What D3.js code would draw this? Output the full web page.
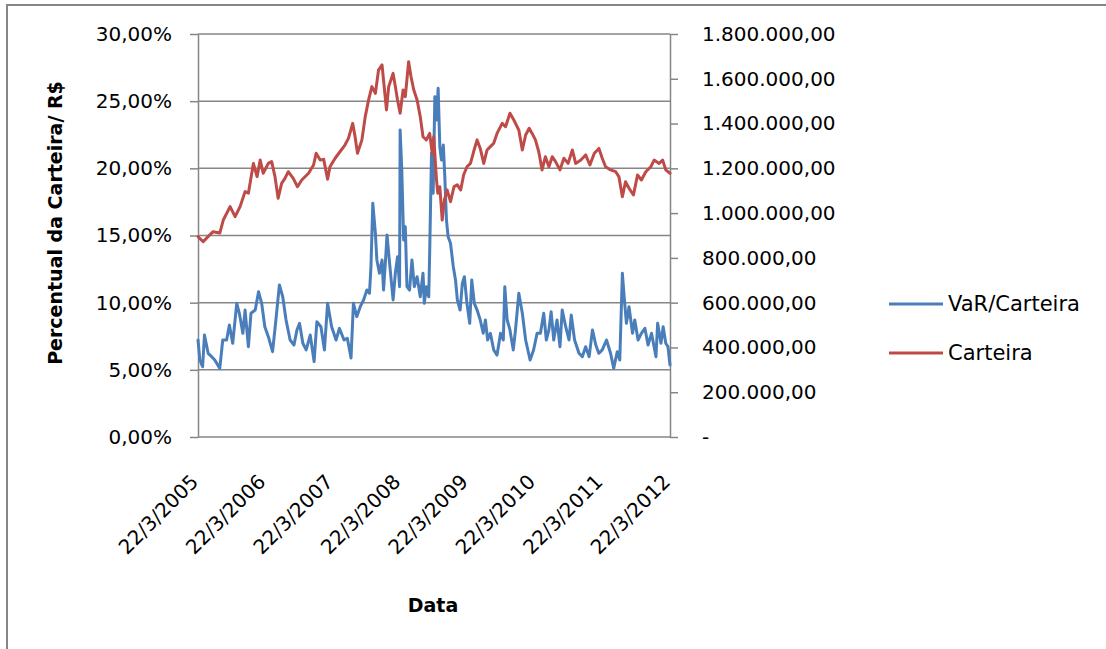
<!DOCTYPE html>
<html>
<head>
<meta charset="utf-8">
<script src="https://cdn.jsdelivr.net/npm/d3@7"></script>
<style>
  html, body { margin: 0; padding: 0; background: #fff; }
  svg { display: block; }
  text { font-family: "DejaVu Sans", sans-serif; fill: #000; }
</style>
</head>
<body>
<svg id="chart" width="1106" height="649"></svg>
<script>
// Category (date) ticks, one per year
const yearTicks = ["2005-03-22", "2006-03-22", "2007-03-22", "2008-03-22",
                   "2009-03-22", "2010-03-22", "2011-03-22", "2012-03-22"];
// Primary axis ticks (% of portfolio) and secondary axis ticks (R$)
const pctTicks = [0, 5, 10, 15, 20, 25, 30];
const valueTicks = [0, 200000, 400000, 600000, 800000, 1000000, 1200000, 1400000, 1600000, 1800000];

const seriesNames = ["VaR/Carteira", "Carteira"];
const seriesColors = ["#4A7EBB", "#BE4B48"];

// VaR as a percentage of the portfolio
const varCarteira = [
  ["2005-03-22", 7.22], ["2005-04-01", 5.73], ["2005-04-16", 5.23], ["2005-04-26", 7.59],
  ["2005-05-16", 6.23], ["2005-06-04", 5.98], ["2005-06-21", 5.73], ["2005-07-18", 5.11],
  ["2005-08-03", 7.22], ["2005-08-24", 7.22], ["2005-09-08", 8.34], ["2005-09-26", 6.98],
  ["2005-10-18", 9.95], ["2005-11-01", 9.21], ["2005-11-20", 7.72], ["2005-12-02", 9.45],
  ["2005-12-20", 6.72], ["2006-01-03", 9.21], ["2006-01-26", 9.45], ["2006-02-13", 10.82],
  ["2006-03-02", 9.95], ["2006-03-19", 8.21], ["2006-04-07", 7.47], ["2006-04-30", 6.35],
  ["2006-05-18", 8.71], ["2006-06-06", 11.32], ["2006-06-24", 10.44], ["2006-07-12", 8.71],
  ["2006-08-03", 7.22], ["2006-08-24", 6.85], ["2006-09-09", 7.97], ["2006-09-23", 8.46],
  ["2006-10-11", 6.98], ["2006-10-29", 6.48], ["2006-11-20", 7.59], ["2006-12-11", 5.61],
  ["2006-12-26", 8.58], ["2007-01-17", 8.21], ["2007-02-05", 6.48], ["2007-02-22", 9.95],
  ["2007-03-16", 8.21], ["2007-04-09", 7.22], ["2007-04-27", 8.09], ["2007-05-22", 7.22],
  ["2007-06-09", 7.35], ["2007-06-29", 5.88], ["2007-07-12", 9.95], ["2007-07-30", 8.96],
  ["2007-08-18", 9.70], ["2007-09-05", 10.20], ["2007-09-23", 10.94], ["2007-10-07", 10.70],
  ["2007-10-15", 12.68], ["2007-10-25", 17.40], ["2007-11-08", 15.16], ["2007-11-16", 13.18],
  ["2007-11-30", 12.19], ["2007-12-14", 13.18], ["2007-12-22", 10.94], ["2008-01-02", 13.18],
  ["2008-01-10", 15.04], ["2008-01-24", 12.93], ["2008-02-12", 10.20], ["2008-02-24", 12.19],
  ["2008-03-07", 13.42], ["2008-03-18", 11.19], ["2008-03-21", 22.85], ["2008-03-30", 19.88],
  ["2008-04-09", 14.67], ["2008-04-18", 15.66], ["2008-04-27", 11.19], ["2008-05-11", 10.94],
  ["2008-05-24", 13.18], ["2008-06-06", 11.19], ["2008-06-21", 11.93], ["2008-07-08", 10.44],
  ["2008-07-23", 12.19], ["2008-07-30", 9.95], ["2008-08-10", 11.19], ["2008-08-23", 10.44],
  ["2008-08-28", 13.67], ["2008-09-07", 21.12], ["2008-09-16", 18.14], ["2008-09-25", 25.33],
  ["2008-10-04", 23.60], ["2008-10-13", 25.96], ["2008-10-22", 21.61], ["2008-10-31", 20.62],
  ["2008-11-10", 21.74], ["2008-11-18", 19.38], ["2008-11-27", 16.15], ["2008-12-06", 14.91],
  ["2008-12-19", 14.42], ["2009-01-03", 12.68], ["2009-01-15", 11.69], ["2009-01-25", 10.20],
  ["2009-02-09", 9.45], ["2009-02-21", 11.44], ["2009-03-04", 11.93], ["2009-03-18", 9.95],
  ["2009-04-02", 8.46], ["2009-04-13", 11.69], ["2009-04-27", 9.95], ["2009-05-12", 9.45],
  ["2009-05-29", 8.71], ["2009-06-14", 7.72], ["2009-06-26", 8.71], ["2009-07-08", 7.22],
  ["2009-07-23", 7.72], ["2009-08-10", 6.48], ["2009-08-28", 6.10], ["2009-09-16", 7.72],
  ["2009-10-01", 7.22], ["2009-10-09", 11.19], ["2009-10-22", 8.71], ["2009-11-06", 7.97],
  ["2009-11-24", 6.48], ["2009-12-06", 7.97], ["2009-12-24", 10.70], ["2010-01-12", 9.21],
  ["2010-01-30", 7.22], ["2010-02-23", 5.73], ["2010-03-14", 6.48], ["2010-04-02", 7.72],
  ["2010-04-20", 7.72], ["2010-05-08", 9.21], ["2010-05-22", 7.22], ["2010-06-05", 7.97],
  ["2010-06-17", 9.33], ["2010-07-01", 7.22], ["2010-07-19", 8.71], ["2010-08-04", 6.72],
  ["2010-08-16", 9.45], ["2010-09-04", 8.21], ["2010-09-22", 7.22], ["2010-10-04", 9.08],
  ["2010-10-22", 7.22], ["2010-11-15", 6.23], ["2010-12-03", 5.98], ["2010-12-21", 6.72],
  ["2011-01-09", 5.98], ["2011-01-27", 7.97], ["2011-02-14", 6.85], ["2011-03-02", 6.23],
  ["2011-03-21", 6.48], ["2011-04-13", 7.22], ["2011-05-05", 6.23], ["2011-05-22", 5.11],
  ["2011-06-10", 6.35], ["2011-06-24", 5.73], ["2011-07-08", 12.19], ["2011-07-19", 10.20],
  ["2011-07-30", 8.46], ["2011-08-13", 9.70], ["2011-09-01", 7.72], ["2011-09-13", 8.71],
  ["2011-10-01", 7.22], ["2011-10-19", 7.72], ["2011-11-07", 8.09], ["2011-11-24", 6.85],
  ["2011-12-13", 7.72], ["2012-01-06", 5.98], ["2012-01-15", 8.46], ["2012-02-02", 6.98],
  ["2012-02-14", 8.21], ["2012-02-28", 6.98], ["2012-03-11", 6.72], ["2012-03-22", 5.36]
];

// Portfolio value in R$
const carteira = [
  ["2005-03-22", 895000], ["2005-04-19", 872000], ["2005-05-07", 888000], ["2005-06-12", 917000],
  ["2005-07-18", 911000], ["2005-08-06", 969000], ["2005-09-12", 1029000], ["2005-10-09", 984000],
  ["2005-11-05", 1029000], ["2005-12-02", 1096000], ["2005-12-20", 1089000], ["2006-01-16", 1222000],
  ["2006-02-05", 1163000], ["2006-02-22", 1237000], ["2006-03-10", 1178000], ["2006-04-07", 1222000],
  ["2006-04-25", 1230000], ["2006-05-13", 1163000], ["2006-05-30", 1066000], ["2006-06-18", 1133000],
  ["2006-07-06", 1155000], ["2006-07-24", 1185000], ["2006-08-20", 1155000], ["2006-09-12", 1118000],
  ["2006-10-05", 1148000], ["2006-11-11", 1178000], ["2006-12-08", 1215000], ["2006-12-22", 1267000],
  ["2007-01-13", 1237000], ["2007-02-01", 1240000], ["2007-02-22", 1151000], ["2007-03-07", 1207000],
  ["2007-04-04", 1245000], ["2007-04-30", 1274000], ["2007-05-27", 1304000], ["2007-06-15", 1334000],
  ["2007-07-08", 1401000], ["2007-07-21", 1341000], ["2007-08-03", 1267000], ["2007-08-27", 1327000],
  ["2007-09-14", 1431000], ["2007-10-02", 1505000], ["2007-10-20", 1565000], ["2007-11-08", 1535000],
  ["2007-11-25", 1639000], ["2007-12-14", 1662000], ["2007-12-22", 1595000], ["2008-01-07", 1461000],
  ["2008-01-19", 1565000], ["2008-02-12", 1624000], ["2008-02-24", 1565000], ["2008-03-07", 1505000],
  ["2008-03-21", 1446000], ["2008-04-06", 1550000], ["2008-04-18", 1520000], ["2008-05-06", 1676000],
  ["2008-05-19", 1609000], ["2008-06-03", 1550000], ["2008-06-21", 1505000], ["2008-07-08", 1431000],
  ["2008-07-23", 1341000], ["2008-08-10", 1327000], ["2008-08-28", 1356000], ["2008-09-11", 1267000],
  ["2008-09-19", 1341000], ["2008-10-04", 1148000], ["2008-10-11", 1089000], ["2008-10-22", 1118000],
  ["2008-11-04", 969000], ["2008-11-16", 1059000], ["2008-12-01", 1103000], ["2008-12-19", 1051000],
  ["2009-01-07", 1118000], ["2009-01-25", 1126000], ["2009-02-12", 1103000], ["2009-02-28", 1170000],
  ["2009-03-18", 1207000], ["2009-04-06", 1222000], ["2009-04-23", 1274000], ["2009-05-12", 1327000],
  ["2009-05-29", 1289000], ["2009-06-17", 1222000], ["2009-07-05", 1282000], ["2009-07-23", 1297000],
  ["2009-08-10", 1312000], ["2009-08-28", 1356000], ["2009-09-25", 1401000], ["2009-10-13", 1386000],
  ["2009-11-06", 1446000], ["2009-11-27", 1416000], ["2009-12-24", 1371000], ["2010-01-12", 1282000],
  ["2010-01-30", 1349000], ["2010-02-18", 1379000], ["2010-03-06", 1356000], ["2010-03-24", 1327000],
  ["2010-04-11", 1274000], ["2010-04-29", 1193000], ["2010-05-17", 1252000], ["2010-06-05", 1207000],
  ["2010-06-23", 1252000], ["2010-07-11", 1230000], ["2010-08-04", 1193000], ["2010-08-25", 1245000],
  ["2010-09-17", 1222000], ["2010-10-10", 1282000], ["2010-10-28", 1222000], ["2010-11-25", 1237000],
  ["2010-12-21", 1260000], ["2011-01-13", 1215000], ["2011-02-06", 1267000], ["2011-03-03", 1289000],
  ["2011-03-21", 1245000], ["2011-04-08", 1207000], ["2011-05-05", 1193000], ["2011-06-02", 1185000],
  ["2011-06-19", 1163000], ["2011-07-08", 1073000], ["2011-07-25", 1140000], ["2011-08-13", 1111000],
  ["2011-09-06", 1081000], ["2011-09-28", 1170000], ["2011-10-19", 1148000], ["2011-11-12", 1185000],
  ["2011-12-09", 1207000], ["2011-12-27", 1237000], ["2012-01-23", 1222000], ["2012-02-11", 1237000],
  ["2012-02-28", 1193000], ["2012-03-22", 1178000]
];

const svg = d3.select("#chart");
const plot = { left: 198, right: 670, top: 34, bottom: 437 };
const gridColor = "#868686";
const parse = d3.timeParse("%Y-%m-%d");
const yearDates = yearTicks.map(parse);

const x = d3.scaleTime()
  .domain([yearDates[0], yearDates[yearDates.length - 1]])
  .range([plot.left, plot.right]);
const yPct = d3.scaleLinear().domain([0, 30]).range([plot.bottom, plot.top]);
const yVal = d3.scaleLinear().domain([0, 1800000]).range([plot.bottom, plot.top]);

const br = d3.formatLocale({ decimal: ",", thousands: ".", grouping: [3], currency: ["R$ ", ""] });
const fmtPct = v => br.format(".2f")(v) + "%";
const fmtVal = v => v === 0 ? "-" : br.format(",.2f")(v);

svg.append("rect").attr("width", 1106).attr("height", 649).attr("fill", "#fff");

// chart frame
svg.append("rect")
  .attr("x", 7).attr("y", 5).attr("width", 1120).attr("height", 670)
  .attr("fill", "none").attr("stroke", gridColor).attr("stroke-width", 2);

// horizontal gridlines
svg.append("g").selectAll("line").data(pctTicks).join("line")
  .attr("x1", plot.left).attr("x2", plot.right)
  .attr("y1", d => yPct(d)).attr("y2", d => yPct(d))
  .attr("stroke", gridColor).attr("stroke-width", 1.5);

// left (percent) axis
const axL = svg.append("g").attr("transform", `translate(${plot.left},0)`)
  .call(d3.axisLeft(yPct).tickValues(pctTicks).tickSize(8).tickSizeOuter(0)
    .tickPadding(18).tickFormat(fmtPct));

// right (R$) axis
const axR = svg.append("g").attr("transform", `translate(${plot.right},0)`)
  .call(d3.axisRight(yVal).tickValues(valueTicks).tickSize(8).tickSizeOuter(0)
    .tickPadding(24).tickFormat(fmtVal));

[axL, axR].forEach(g => {
  g.selectAll("path.domain").attr("stroke", gridColor).attr("stroke-width", 1.5);
  g.selectAll(".tick line").attr("stroke", gridColor).attr("stroke-width", 1.5);
  g.selectAll("text").style("font-size", "20px").style("font-family", "'DejaVu Sans', sans-serif");
});

// date axis labels, rotated
const axB = svg.append("g").attr("transform", `translate(0,${plot.bottom})`)
  .call(d3.axisBottom(x).tickValues(yearDates).tickSize(0)
    .tickFormat(d3.timeFormat("%-d/%-m/%Y")));
axB.select("path.domain").remove();
axB.selectAll("text")
  .attr("x", 0).attr("y", 0).attr("dy", 0)
  .attr("text-anchor", "end")
  .attr("transform", "translate(1,46) rotate(-45)")
  .style("font-size", "20px").style("font-family", "'DejaVu Sans', sans-serif");

// series lines
const line = (scale) => d3.line()
  .x(d => x(parse(d[0])))
  .y(d => scale(d[1]));

svg.append("path").datum(varCarteira)
  .attr("d", line(yPct))
  .attr("fill", "none").attr("stroke", seriesColors[0])
  .attr("stroke-width", 3).attr("stroke-linejoin", "round").attr("stroke-linecap", "round");

svg.append("path").datum(carteira)
  .attr("d", line(yVal))
  .attr("fill", "none").attr("stroke", seriesColors[1])
  .attr("stroke-width", 3).attr("stroke-linejoin", "round").attr("stroke-linecap", "round");

// axis titles
svg.append("text")
  .attr("x", 433).attr("y", 605)
  .attr("text-anchor", "middle").attr("dominant-baseline", "central")
  .style("font-size", "19px").style("font-weight", "bold")
  .text("Data");

svg.append("text")
  .attr("transform", "translate(55,223) rotate(-90)")
  .attr("text-anchor", "middle").attr("dominant-baseline", "central")
  .style("font-size", "19px").style("font-weight", "bold")
  .text("Percentual da Carteira/ R$");

// legend
const legend = svg.append("g");
const legendY = [304, 353];
seriesNames.forEach((name, i) => {
  legend.append("line")
    .attr("x1", 889).attr("x2", 943)
    .attr("y1", legendY[i]).attr("y2", legendY[i])
    .attr("stroke", seriesColors[i]).attr("stroke-width", 3);
  legend.append("text")
    .attr("x", 948).attr("y", legendY[i])
    .attr("dominant-baseline", "central")
    .style("font-size", "21px")
    .text(name);
});
</script>
</body>
</html>
